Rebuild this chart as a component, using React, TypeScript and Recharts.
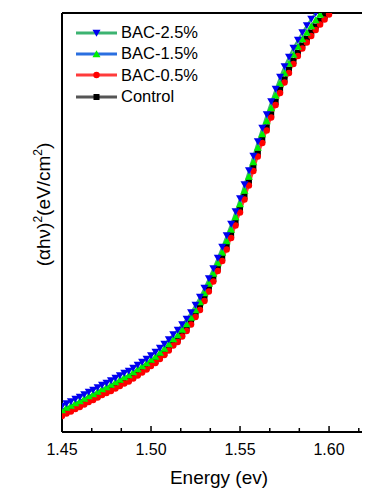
import React from "react";
import { LineChart, Line, XAxis, YAxis, ReferenceLine, Legend } from "recharts";

// Photon energy (eV)
const energy = [
  1.45, 1.4525, 1.455, 1.4575, 1.46, 1.4625, 1.465, 1.4675, 1.47, 1.4725,
  1.475, 1.4775, 1.48, 1.4825, 1.485, 1.4875, 1.49, 1.4925, 1.495, 1.4975,
  1.5, 1.5025, 1.505, 1.5075, 1.51, 1.5125, 1.515, 1.5175, 1.52, 1.5225,
  1.525, 1.5275, 1.53, 1.5325, 1.535, 1.5375, 1.54, 1.5425, 1.545, 1.5475,
  1.55, 1.5525, 1.555, 1.5575, 1.56, 1.5625, 1.565, 1.5675, 1.57, 1.5725,
  1.575, 1.5775, 1.58, 1.5825, 1.585, 1.5875, 1.59, 1.5925, 1.595, 1.5975,
  1.6, 1.6025, 1.605, 1.6075, 1.61, 1.6125, 1.615, 1.6175, 1.62, 1.6225,
];

// (αhν)² in arbitrary units
const bac25 = [
  0.52, 0.57, 0.61, 0.66, 0.7, 0.75, 0.8, 0.84, 0.89, 0.94,
  0.98, 1.03, 1.08, 1.13, 1.18, 1.22, 1.28, 1.34, 1.4, 1.46,
  1.53, 1.6, 1.68, 1.76, 1.85, 1.95, 2.04, 2.15, 2.26, 2.39,
  2.54, 2.7, 2.88, 3.07, 3.27, 3.48, 3.7, 3.93, 4.16, 4.41,
  4.67, 4.95, 5.23, 5.52, 5.81, 6.08, 6.35, 6.61, 6.86, 7.1,
  7.31, 7.5, 7.68, 7.84, 7.99, 8.13, 8.26, 8.38, 8.49, 8.59,
  8.69, 8.79, 8.88, 8.96, 9.04, 9.12, 9.2, 9.28, 9.35, 9.42,
];
const bac15 = [
  0.44, 0.49, 0.53, 0.58, 0.62, 0.67, 0.72, 0.76, 0.81, 0.86,
  0.9, 0.95, 1.0, 1.05, 1.1, 1.14, 1.2, 1.26, 1.32, 1.38,
  1.45, 1.51, 1.59, 1.67, 1.76, 1.86, 1.94, 2.05, 2.16, 2.29,
  2.44, 2.6, 2.78, 2.97, 3.17, 3.38, 3.59, 3.82, 4.05, 4.3,
  4.56, 4.83, 5.11, 5.4, 5.69, 5.96, 6.22, 6.48, 6.73, 6.97,
  7.18, 7.37, 7.55, 7.71, 7.86, 7.99, 8.12, 8.24, 8.35, 8.45,
  8.55, 8.65, 8.74, 8.82, 8.9, 8.98, 9.06, 9.14, 9.21, 9.28,
];
const bac05 = [
  0.32, 0.37, 0.41, 0.46, 0.5, 0.55, 0.6, 0.64, 0.69, 0.74,
  0.78, 0.82, 0.87, 0.92, 0.97, 1.01, 1.07, 1.13, 1.19, 1.25,
  1.32, 1.38, 1.46, 1.54, 1.63, 1.73, 1.8, 1.91, 2.02, 2.15,
  2.3, 2.44, 2.62, 2.81, 3.01, 3.22, 3.42, 3.65, 3.88, 4.13,
  4.39, 4.65, 4.93, 5.22, 5.51, 5.78, 6.03, 6.29, 6.54, 6.78,
  6.99, 7.18, 7.36, 7.52, 7.67, 7.79, 7.92, 8.04, 8.15, 8.25,
  8.35, 8.45, 8.54, 8.62, 8.7, 8.78, 8.86, 8.94, 9.01, 9.08,
];
const control = [
  0.36, 0.41, 0.45, 0.5, 0.54, 0.59, 0.64, 0.68, 0.73, 0.78,
  0.82, 0.86, 0.91, 0.96, 1.01, 1.05, 1.11, 1.17, 1.23, 1.29,
  1.36, 1.42, 1.5, 1.58, 1.67, 1.77, 1.85, 1.96, 2.07, 2.2,
  2.35, 2.49, 2.67, 2.86, 3.06, 3.27, 3.48, 3.71, 3.94, 4.19,
  4.45, 4.71, 4.99, 5.28, 5.57, 5.84, 6.09, 6.35, 6.6, 6.84,
  7.05, 7.24, 7.42, 7.58, 7.73, 7.86, 7.99, 8.11, 8.22, 8.32,
  8.42, 8.52, 8.61, 8.69, 8.77, 8.85, 8.93, 9.01, 9.08, 9.15,
];

const majorTicks = [1.45, 1.5, 1.55, 1.6];
const allTicks = [
  1.45, 1.4667, 1.4833, 1.5, 1.5167, 1.5333, 1.55, 1.5667, 1.5833, 1.6, 1.6167,
];
const seriesNames = ["BAC-2.5%", "BAC-1.5%", "BAC-0.5%", "Control"];

const data = energy.map((e, i) => ({
  e,
  b25: bac25[i],
  b15: bac15[i],
  b05: bac05[i],
  ctl: control[i],
}));

const FONT = "'Liberation Sans', Arial, sans-serif";

type MarkerKind = "down" | "up" | "circle" | "square";

const markerShape = (kind: MarkerKind, cx: number, cy: number, color: string, key?: string) => {
  if (kind === "down") {
    return <path key={key} d={`M${cx - 4},${cy - 3.2}L${cx + 4},${cy - 3.2}L${cx},${cy + 3.8}Z`} fill={color} />;
  }
  if (kind === "up") {
    return <path key={key} d={`M${cx - 4},${cy + 3.2}L${cx + 4},${cy + 3.2}L${cx},${cy - 3.8}Z`} fill={color} />;
  }
  if (kind === "circle") {
    return <circle key={key} cx={cx} cy={cy} r={3.2} fill={color} />;
  }
  return <rect key={key} x={cx - 3} y={cy - 3} width={6} height={6} fill={color} />;
};

const makeDot = (kind: MarkerKind, color: string) => (props: any) => {
  const { cx, cy, index } = props;
  if (cx == null || cy == null || isNaN(cx) || isNaN(cy)) return <g key={`e-${kind}-${index}`} />;
  return markerShape(kind, cx, cy, color, `d-${kind}-${index}`);
};

const seriesStyle = [
  { key: "b25", line: "#3CB371", marker: "#0000F0", kind: "down" as MarkerKind },
  { key: "b15", line: "#2A6FE0", marker: "#00F000", kind: "up" as MarkerKind },
  { key: "b05", line: "#FF3B3B", marker: "#FF0000", kind: "circle" as MarkerKind },
  { key: "ctl", line: "#555555", marker: "#000000", kind: "square" as MarkerKind },
];

const renderTick = (props: any) => {
  const { x, y, payload, index } = props;
  const v = payload.value as number;
  const major = majorTicks.some((m) => Math.abs(m - v) < 1e-6);
  return (
    <g key={`t-${index}`}>
      <line x1={x} x2={x} y1={y - 1} y2={y - (major ? 6 : 4)} stroke="#000" strokeWidth={1.5} />
      {major && (
        <text x={x} y={y + 23} textAnchor="middle" fontSize={16} fontFamily={FONT} fill="#000">
          {v.toFixed(2)}
        </text>
      )}
    </g>
  );
};

const renderXLabel = (props: any) => {
  const vb = props.viewBox || { x: 54, y: 424, width: 308 };
  const cx = vb.x + vb.width / 2 + 3;
  return (
    <text x={cx} y={476} textAnchor="middle" fontSize={19} fontFamily={FONT} fill="#000">
      Energy (ev)
    </text>
  );
};

const renderYLabel = () => {
  const cx = 42;
  const cy = 196.5;
  return (
    <text
      x={cx}
      y={cy}
      transform={`rotate(-90, ${cx}, ${cy})`}
      textAnchor="middle"
      fontSize={19}
      fontFamily={FONT}
      fill="#000"
    >
      (αhν)
      <tspan dy={-8} fontSize={12}>2</tspan>
      <tspan dy={8}>(eV/cm</tspan>
      <tspan dy={-8} fontSize={12}>2</tspan>
      <tspan dy={8}>)</tspan>
    </text>
  );
};

const renderLegend = () => (
  <div style={{ fontFamily: FONT, fontSize: 16.5, color: "#000" }}>
    {seriesNames.map((name, i) => {
      const s = seriesStyle[i];
      return (
        <div key={name} style={{ display: "flex", alignItems: "center", height: 21.3, lineHeight: "21.3px" }}>
          <svg width={41} height={12} style={{ display: "block" }}>
            <line x1={0} x2={41} y1={6} y2={6} stroke={s.line} strokeWidth={3} />
            {markerShape(s.kind, 20.5, 6, s.marker)}
          </svg>
          <span style={{ marginLeft: 4, whiteSpace: "nowrap" }}>{name}</span>
        </div>
      );
    })}
  </div>
);

export default function App() {
  const drawOrder = [3, 2, 1, 0];
  return (
    <div style={{ width: 362, height: 482 }}>
      <LineChart width={362} height={482} data={data} margin={{ top: 5, right: 0, bottom: 0, left: 0 }}>
        <XAxis
          dataKey="e"
          type="number"
          domain={[1.45, 1.623]}
          allowDataOverflow
          ticks={allTicks}
          interval={0}
          tickSize={0}
          tickMargin={0}
          tickLine={false}
          tick={renderTick}
          height={58}
          axisLine={{ stroke: "#000", strokeWidth: 2 }}
          label={renderXLabel}
        />
        <YAxis
          type="number"
          domain={[0, 8.38]}
          allowDataOverflow
          width={54}
          tick={false}
          tickLine={false}
          axisLine={{ stroke: "#000", strokeWidth: 2 }}
          label={renderYLabel}
        />
        <ReferenceLine y={8.38} stroke="#000" strokeWidth={2} />
        {drawOrder.map((i) => {
          const s = seriesStyle[i];
          return (
            <Line
              key={s.key}
              dataKey={s.key}
              name={seriesNames[i]}
              type="monotone"
              stroke={s.line}
              strokeWidth={2}
              dot={makeDot(s.kind, s.marker)}
              activeDot={false}
              isAnimationActive={false}
            />
          );
        })}
        <Legend
          content={renderLegend}
          layout="vertical"
          verticalAlign="middle"
          align="center"
          wrapperStyle={{ position: "absolute", left: 68, top: 14, width: 150 }}
        />
      </LineChart>
    </div>
  );
}
